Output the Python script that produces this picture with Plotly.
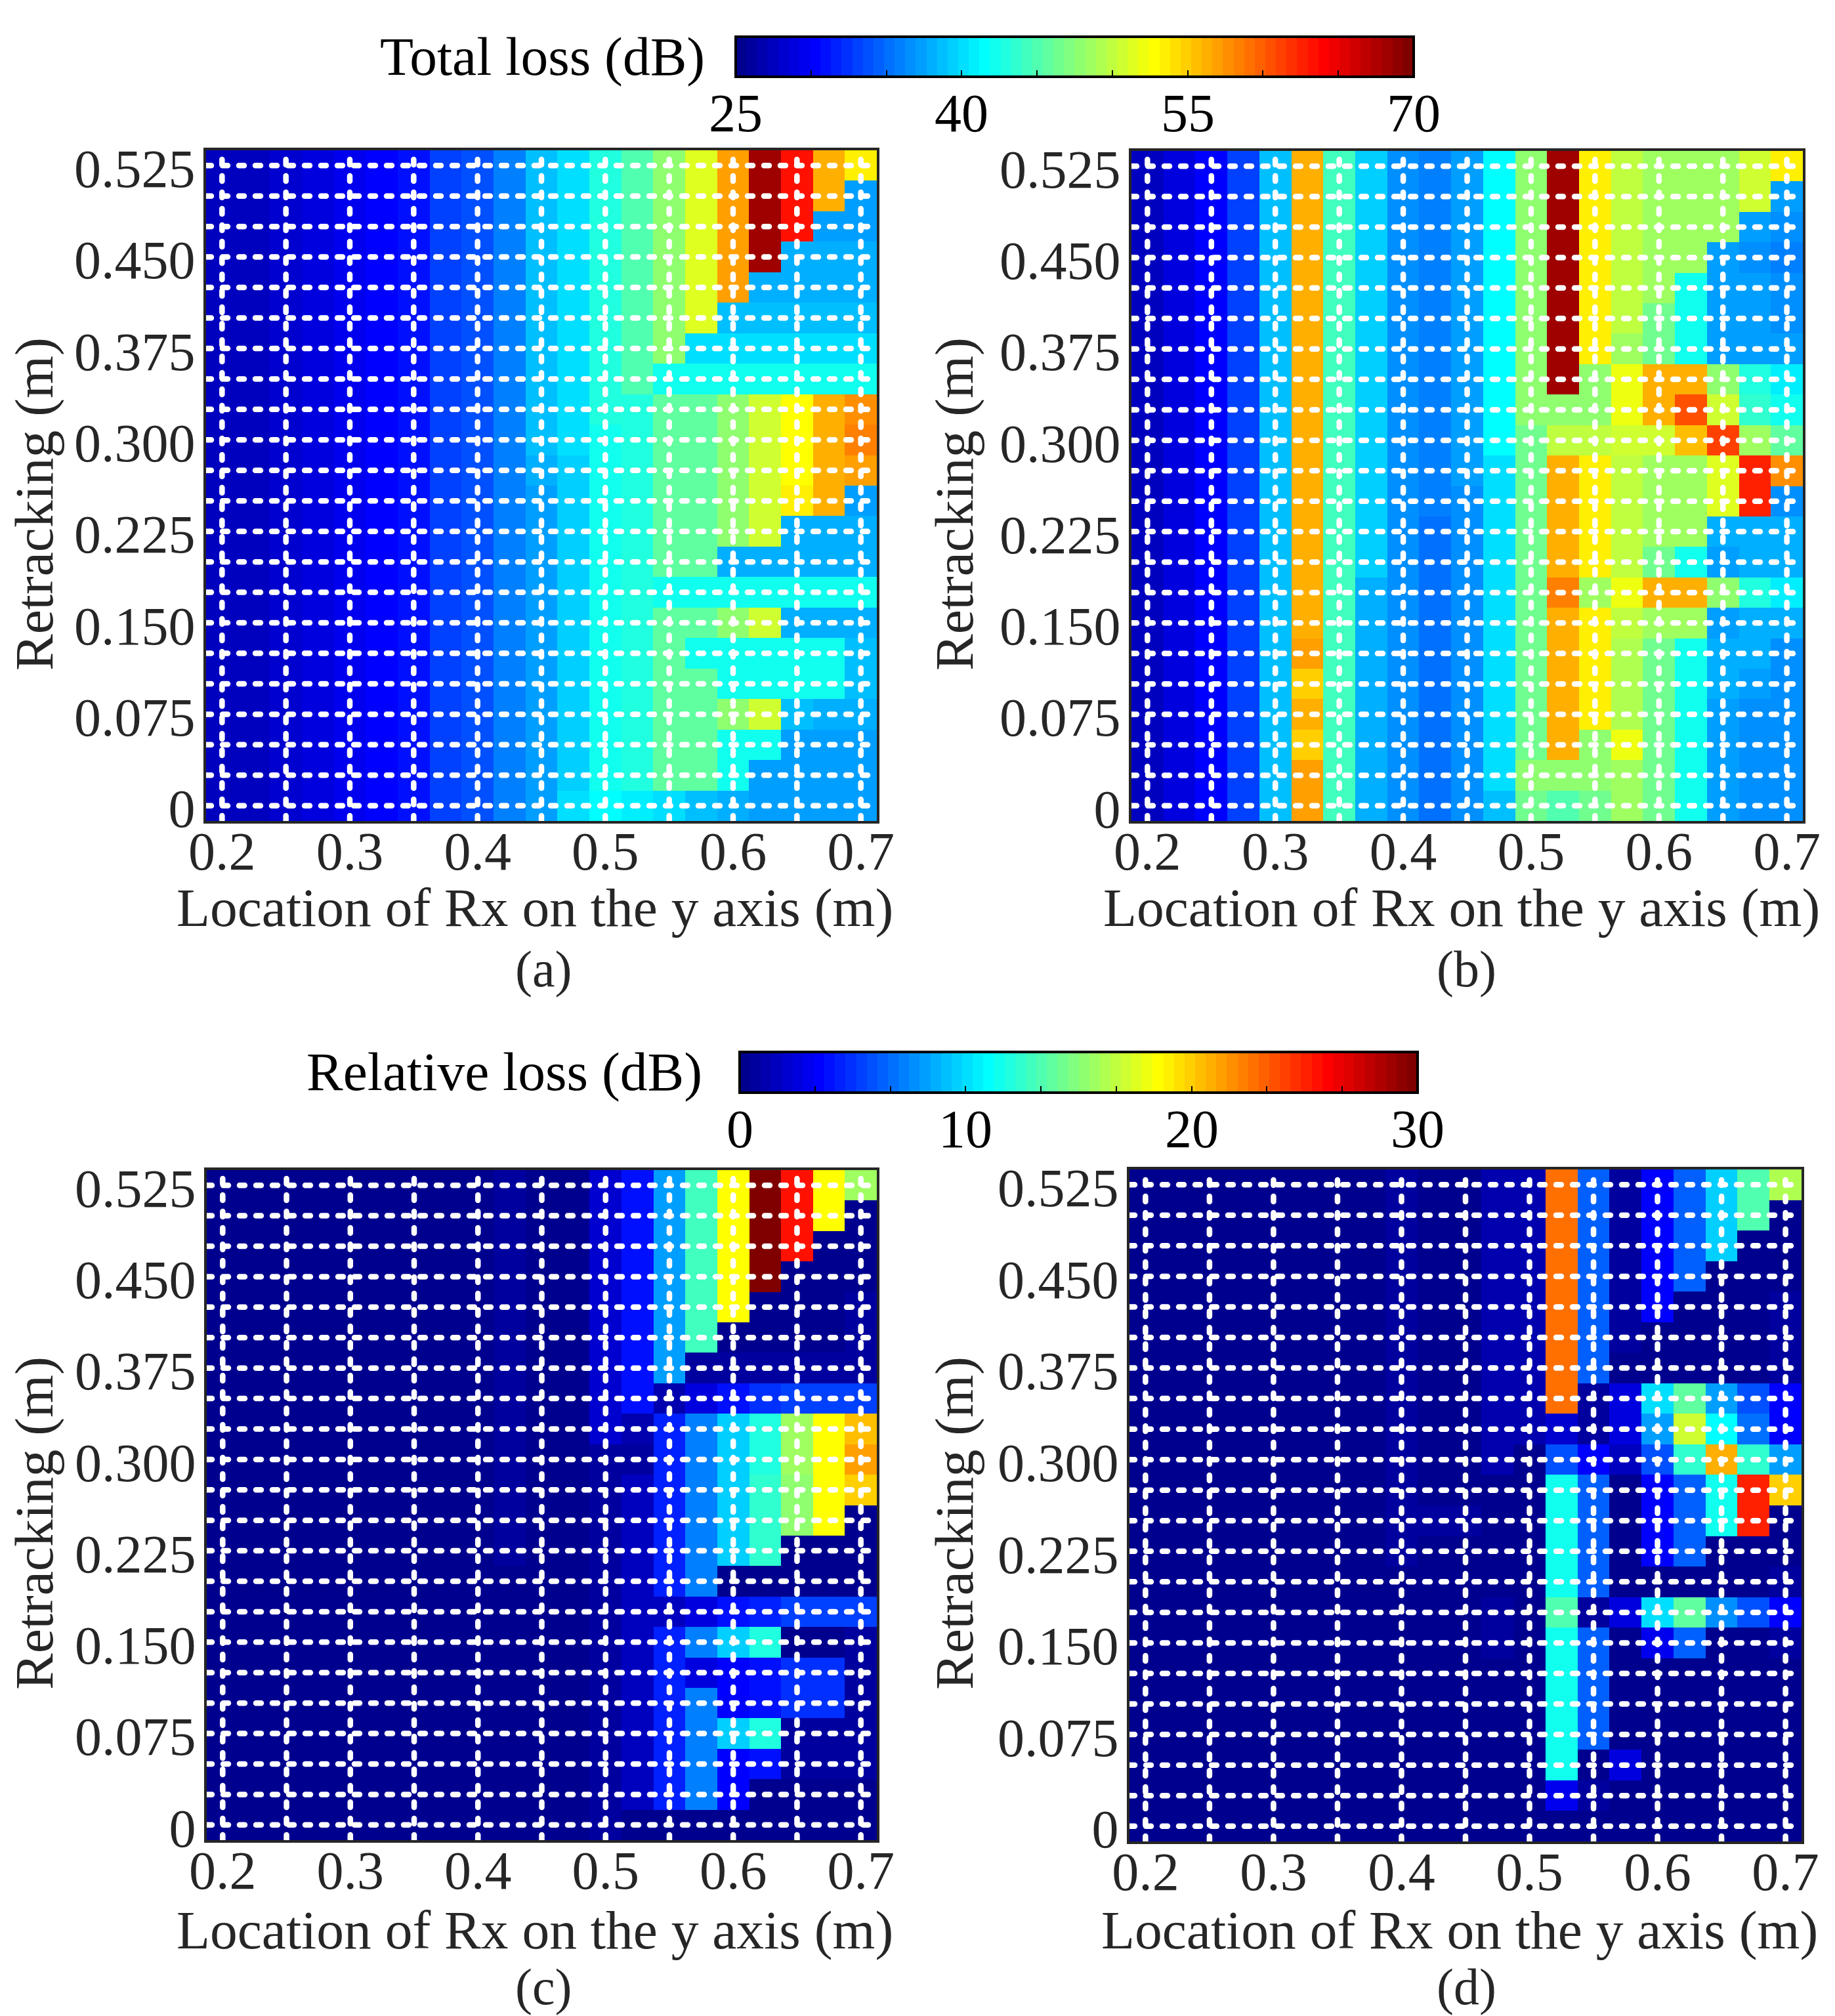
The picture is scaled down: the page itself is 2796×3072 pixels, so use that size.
import plotly.graph_objects as go

W, H = 2796, 3072
rx_y = [0.2, 0.225, 0.25, 0.275, 0.3, 0.325, 0.35, 0.375, 0.4, 0.425, 0.45, 0.475, 0.5, 0.525, 0.55, 0.575, 0.6, 0.625, 0.65, 0.675, 0.7]
retrack = [0.525, 0.5, 0.475, 0.45, 0.425, 0.4, 0.375, 0.35, 0.325, 0.3, 0.275, 0.25, 0.225, 0.2, 0.175, 0.15, 0.125, 0.1, 0.075, 0.05, 0.025, 0.0]
x_ticks = [0.2, 0.3, 0.4, 0.5, 0.6, 0.7]
y_ticks = [0, 0.075, 0.15, 0.225, 0.3, 0.375, 0.45, 0.525]
y_tick_text = ["0", "0.075", "0.150", "0.225", "0.300", "0.375", "0.450", "0.525"]
x_grid = [0.2, 0.25, 0.3, 0.35, 0.4, 0.45, 0.5, 0.55, 0.6, 0.65, 0.7]
total_ticks = [25, 30, 35, 40, 45, 50, 55, 60, 65, 70]
total_labels = [25, 40, 55, 70]
rel_ticks = [0, 3.333, 6.667, 10, 13.333, 16.667, 20, 23.333, 26.667, 30]
rel_labels = [0, 10, 20, 30]

# each inner list is one column (one Rx location), top row (0.525 m) first
panel_a = [
    [27.3]*22, [27.8]*22, [28.4]*22, [29]*22, [29.5]*22, [30]*22, [31]*22, [32.8]*22, [34]*22, [36.2]*22,
    [38.5]*10 + [38] + [37.6]*11,
    [40.2]*10 + [39.3]*11 + [40.2],
    [43]*9 + [42]*12 + [41.3],
    [45.3]*8 + [43]*13 + [41],
    [48]*7 + [42.3] + [45.7]*6 + [42.3] + [45.7]*6 + [40],
    [51.4]*6 + [40.3, 42.5] + [46]*6 + [42.5, 46, 42.5] + [46]*4 + [39],
    [57]*5 + [39, 40, 42.5] + [48]*5 + [38, 42.5, 48, 42.5, 42.5, 48, 42.5, 42.5, 38],
    [68]*4 + [38, 38.6, 40, 42.5] + [50.5]*5 + [37.8, 42.5, 50.5, 42.5, 42.5, 50.5, 42.5, 37.5, 37.5],
    [63]*3 + [38, 38, 38.6, 40, 42.5, 52.8, 52.8, 52.8, 53.7, 38.2, 37.8, 42.5, 38.2, 42.5, 42.5, 38.6, 37.3, 37, 37],
    [56, 56, 37.6, 38, 38, 38.6, 40, 42.5, 56, 56, 56, 56, 38.2, 37.8, 42.5, 38.2, 42.5, 42.5, 38, 37, 37, 37],
    [53.5, 37.5, 37.5, 38, 38, 38.6, 39.8, 42, 57.5, 58.5, 57, 37.6, 38.2, 37.8, 42.5, 38.2, 38.6, 38.6, 38, 37, 37, 37],
]
panel_b = [
    [27.5]*22, [28.8]*22, [30.3]*22, [33.3]*22, [38.8]*22,
    [56]*16 + [57.3, 55, 56, 55, 56.8, 56.8],
    [44.5]*22,
    [39.2]*14 + [38.3]*8,
    [36.8]*22,
    [36.2]*12 + [35.5]*10,
    [37.3]*11 + [36.6]*11,
    [41.3]*10 + [40.2]*11 + [39],
    [48]*9 + [46.5]*11 + [47.5, 46.5],
    [68]*8 + [48, 50.3] + [56]*4 + [58.5] + [56]*5 + [47.5, 45],
    [53.7]*7 + [48, 48, 50] + [53.7]*4 + [48.5] + [53.7]*4 + [48, 48, 46.5],
    [50.2]*6 + [48.5, 52, 52, 51] + [49.8]*4 + [52, 49.8] + [49.5]*3 + [52, 48.8, 48.8],
    [48.8]*5 + [46.5, 46.5, 56, 56, 51, 48.8, 48.8, 48.8, 46.5, 56.5, 48.8] + [46.5]*6,
    [48.8]*4 + [42.5, 42.5, 42.5, 56, 60.5, 55.5, 48.8, 48.8, 48.8, 42.5, 56.5, 48.8] + [42.5]*6,
    [48.8]*3 + [37, 37.5, 37.5, 37.5, 48, 50.8, 61, 51.4, 51.4, 37.8, 37.5, 48, 37, 38.3, 38.3, 37, 37, 37, 37],
    [51, 51, 37, 36.6, 37, 37, 37, 43, 43.5, 48.8, 62.5, 62.5, 38.3, 37.8, 43, 38.3, 37.8, 37.5, 36.8, 36.8, 36.8, 36.8],
    [53.8, 37, 36.5, 36.2, 36.5, 36.8, 37, 41, 42.3, 45.8, 58, 36.8, 38.3, 37.8, 41, 37.8, 36.8, 36.8, 36.8, 36.8, 36.8, 36.8],
]
panel_c = [
    [0.2]*22, [0.2]*22, [0.2]*22, [0.2]*22, [0.2]*22, [0.2]*22, [0.2]*22, [0.2]*22, [0.2]*22,
    [0.5]*13 + [0.2]*9,
    [0.3]*22, [0.3]*22,
    [2.2]*9 + [0.5]*13,
    [4.2]*8 + [1.2, 0.8] + [1.8]*11 + [0.2],
    [8.2]*7 + [1.3] + [4.6]*6 + [1.5] + [4.6]*6 + [0.2],
    [12.9]*6 + [0.5, 2.6] + [7.3]*6 + [2.4, 7.3, 2.6] + [7.3]*4 + [0.2],
    [18.5]*5 + [0.2, 0.6, 4, 9.5, 9.8, 9.8, 9.8, 9.8, 0.4, 4, 9.8, 3.5, 3.3, 9.8, 3.4, 3.4, 0.2],
    [29.8]*4 + [0.2, 0.2, 0.6, 5, 12, 12, 12.5, 12.5, 12.5, 0.3, 4.5, 12, 4, 4, 12, 4, 0.4, 0.2],
    [25.5]*3 + [0.2, 0.2, 0.2, 0.6, 5.2, 15.7, 15.7, 15.2, 15.2, 0.3, 0.3, 5.4, 0.3, 5, 5, 0.5, 0.5, 0.2, 0.2],
    [18.5]*2 + [0.3, 0.3, 0.3, 0.3, 0.6, 5.2] + [18.5]*4 + [0.3, 0.3, 5.4, 0.3, 5, 5, 0.5, 0.7, 0.3, 0.2],
    [15.7, 0.3, 0.3, 0.3, 0.6, 0.6, 0.8, 5.5, 20.5, 21.3, 20, 0.3, 0.3, 0.3, 5.5, 0.5, 0.5, 0.5, 0.6, 0.9, 0.3, 0.2],
]
panel_d = [
    [0.2]*22, [0.2]*22, [0.2]*22, [0.2]*22, [0.2]*22, [0.2]*22, [0.2]*22, [0.2]*22,
    [0.6]*13 + [0.2]*9,
    [0.3]*11 + [0.6] + [0.2]*10,
    [0.3]*11 + [0.6] + [0.2]*10,
    [1.3]*10 + [0.2]*4 + [0.5, 0.5] + [0.2]*6,
    [1.3]*9 + [0.3] + [0.2]*4 + [0.4, 0.4] + [0.2]*6,
    [22.8]*8 + [2.2, 5.8] + [11.5]*4 + [13.5] + [11.5]*5 + [3, 0.2],
    [6.3]*7 + [0.6, 0.6, 3.5] + [6.3]*4 + [0.6] + [6.3]*4 + [0.4, 0.6, 0.2],
    [0.5]*6 + [0.3, 2.6, 2.6, 1.5] + [0.3]*4 + [2.6] + [0.3]*4 + [2.6, 0.2, 0.2],
    [3.5]*5 + [0.2, 0.2, 10, 8.4, 5.8, 3.5, 3.5, 3.5, 0.2, 10, 3.2] + [0.2]*6,
    [6.3]*4 + [0.2, 0.2, 0.2, 14, 17, 12.5, 6.3, 6.3, 6.3, 0.2, 14, 6.3] + [0.2]*6,
    [9.4]*3 + [0.2]*4 + [8, 10.8, 21, 11.5, 11.5, 0.2, 0.2, 7.8] + [0.2]*7,
    [13.5]*2 + [0.2]*5 + [5.8, 7, 12.5, 25, 25, 0.3, 0.3, 5.8, 0.3, 0.4, 0.4] + [0.2]*4,
    [16, 0.2, 0.2, 0.2, 0.6, 0.7, 0.7, 3.5, 3.7, 8.2, 19.8, 0.2, 0.3, 0.6, 3.5, 0.6] + [0.2]*6,
]


def jet64():
    out = []
    for k in range(64):
        t = (k + 1) / 64 * 4  # MATLAB jet(64)
        r = min(t - 1.5, 4.5 - t)
        g = min(t - 0.5, 3.5 - t)
        b = min(t + 0.5, 2.5 - t)
        c = [round(255 * max(0, min(1, v))) for v in (r, g, b)]
        col = f"rgb({c[0]},{c[1]},{c[2]})"
        out += [[k / 64, col], [(k + 1) / 64, col]]
    return out


JET = jet64()
SERIF = "Liberation Serif"
INK = "#262626"
FS_TICK = 82
FS_TITLE = 83.5


def label(text, px, py, size=FS_TITLE, color=INK, anchor="center", angle=0):
    return dict(text=text, xref="paper", yref="paper", x=px / W, y=1 - py / H, xanchor=anchor, yanchor="middle",
                showarrow=False, textangle=angle, font=dict(family=SERIF, size=size, color=color))


panels = [
    (panel_a, "coloraxis", (314, 1336), (229, 1251), "(a)", 815, 1383, 52, 768, 829, 1477),
    (panel_b, "coloraxis", (1724, 2747), (230, 1251), "(b)", 2227, 1383, 1454, 768, 2234, 1477),
    (panel_c, "coloraxis2", (315, 1336), (1783, 2804), "(c)", 815, 2941, 52, 2321, 829, 3027),
    (panel_d, "coloraxis2", (1721, 2745), (1782, 2806), "(d)", 2224, 2941, 1454, 2321, 2234, 3027),
]

fig = go.Figure()
layout = {}
annotations = []
for i, (cols, cax, (x0, x1), (y0, y1), letter, tx, ty, rx, ry, lx, ly) in enumerate(panels, start=1):
    xa = "x" if i == 1 else f"x{i}"
    ya = "y" if i == 1 else f"y{i}"
    rows = [list(r) for r in zip(*cols)]
    fig.add_trace(go.Heatmap(x=rx_y, y=retrack, z=rows, coloraxis=cax, xaxis=xa, yaxis=ya,
                             hoverinfo="skip", xgap=0, ygap=0))
    gx, gy = [], []
    for v in x_grid:
        gx += [v, v, None]
        gy += [-0.0125, 0.5375, None]
    for v in retrack:
        gx += [0.1875, 0.7125, None]
        gy += [v, v, None]
    fig.add_trace(go.Scatter(x=gx, y=gy, mode="lines", xaxis=xa, yaxis=ya, showlegend=False,
                             hoverinfo="skip",
                             line=dict(color="white", width=8.5, dash="8px,17px")))
    common = dict(showline=True, mirror=True, linecolor=INK, linewidth=4, showgrid=False, zeroline=False,
                  ticks="", tickfont=dict(family=SERIF, size=FS_TICK, color=INK))
    layout["xaxis" if i == 1 else f"xaxis{i}"] = dict(
        common, domain=[x0 / W, x1 / W], anchor=ya, range=[0.1875, 0.7125], ticklabelstandoff=-28,
        tickvals=x_ticks, ticktext=[f"{v:.1f}" for v in x_ticks])
    layout["yaxis" if i == 1 else f"yaxis{i}"] = dict(
        common, domain=[1 - y1 / H, 1 - y0 / H], anchor=xa, range=[-0.0125, 0.5375],
        ticklabelstandoff=-4, ticklabelshift=4,
        tickvals=y_ticks, ticktext=y_tick_text)
    annotations.append(label("Location of Rx on the y axis (m)", tx, ty))
    annotations.append(label("Retracking (m)", rx, ry, angle=-90))
    annotations.append(label(letter, lx, ly, size=78))

annotations.append(label("Total loss (dB)", 1076, 86, color="black", anchor="right"))
annotations.append(label("Relative loss (dB)", 1072, 1633, color="black", anchor="right"))

bars = [
    (1121, 2154, 56, 117, 25, 70, total_ticks, total_labels, 172),
    (1127, 2160, 1603, 1665, 0, 30, rel_ticks, rel_labels, 1720),
]
shapes = []
for (bx0, bx1, by0, by1, vmin, vmax, vals, labs, ly) in bars:
    for v in vals[1:-1]:
        px = bx0 + (v - vmin) / (vmax - vmin) * (bx1 - bx0)
        shapes.append(dict(type="line", xref="paper", yref="paper", x0=px / W, x1=px / W,
                           y0=1 - by0 / H, y1=1 - (by0 + 12) / H, line=dict(color="black", width=2)))
    for v in labs:
        px = bx0 + (v - vmin) / (vmax - vmin) * (bx1 - bx0)
        annotations.append(label(str(v), px, ly, size=FS_TICK, color="black"))


def cbar(x0, x1, y0, y1, vals):
    return dict(orientation="h", x=x0 / W, xanchor="left", y=1 - y0 / H, yanchor="top",
                len=x1 - x0, lenmode="pixels", thickness=y1 - y0, thicknessmode="pixels",
                xpad=0, ypad=0, outlinewidth=4, outlinecolor="black",
                tickvals=vals, ticktext=[""] * len(vals), ticks="inside", ticklen=12, tickwidth=2, tickcolor="black",
                tickfont=dict(family=SERIF, size=10, color=INK))


fig.update_layout(
    width=W, height=H, paper_bgcolor="white", plot_bgcolor="white",
    margin=dict(l=0, r=0, t=0, b=0, autoexpand=False), showlegend=False, annotations=annotations, shapes=shapes,
    coloraxis=dict(colorscale=JET, cmin=25, cmax=70, colorbar=cbar(1121, 2154, 56, 117, total_ticks)),
    coloraxis2=dict(colorscale=JET, cmin=0, cmax=30, colorbar=cbar(1127, 2160, 1603, 1665, rel_ticks)),
    **layout,
)
fig.write_html("out.html", config={"displayModeBar": False},
               post_script="document.body.style.margin='0';document.querySelectorAll('.scatterlayer .js-line').forEach(function(p){p.style.strokeLinecap='round';});")
